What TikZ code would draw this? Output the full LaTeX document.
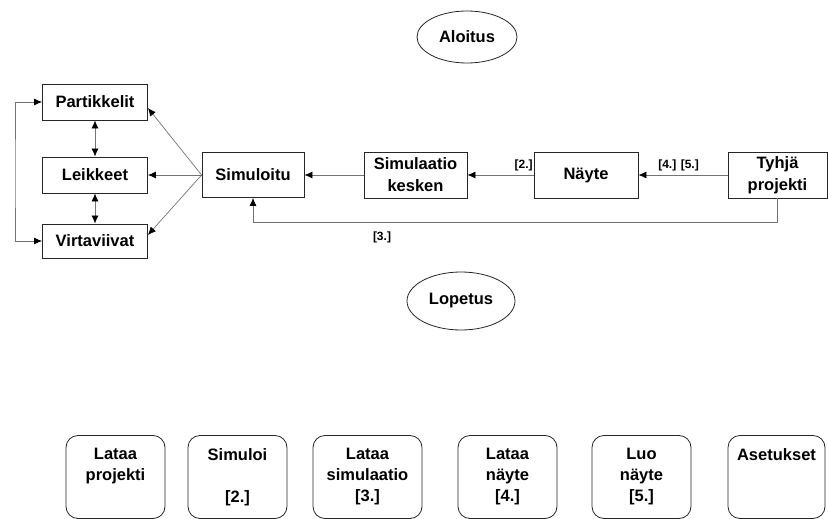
\documentclass[tikz,border=0pt]{standalone}
\usepackage{fontspec}
\setmainfont{Liberation Sans}
\usetikzlibrary{shapes.geometric,arrows.meta,calc}
\begin{document}
\begin{tikzpicture}[x=1pt,y=-1pt,
  every node/.style={font=\fontsize{16.5}{22}\selectfont\bfseries, align=center, inner sep=0pt},
  sbox/.style={draw=black!85, line width=0.8pt, rectangle},
  rbox/.style={draw=black!85, line width=0.8pt, rounded corners=12pt, minimum width=99pt, minimum height=83pt},
  oval/.style={draw=black!85, line width=0.8pt, ellipse},
  tip/.tip={Latex[length=8pt,width=7pt,black]},
  conn/.style={draw=black!55, line width=0.7pt, -tip},
  conn2/.style={draw=black!55, line width=0.7pt, tip-tip},
  lbl/.style={font=\fontsize{12}{14}\selectfont\bfseries},
  btxt/.style={font=\fontsize{16.5}{21}\selectfont\bfseries, anchor=north}
]
\useasboundingbox (0,0) rectangle (828,519);
% ellipses
\node[oval, minimum width=100pt, minimum height=52pt] (aloitus) at (467,37) {Aloitus};
\node[oval, minimum width=108pt, minimum height=58pt] (lopetus) at (461,301) {Lopetus};
% left boxes
\node[sbox, minimum width=105pt, minimum height=36pt] (part) at (95,102) {Partikkelit};
\node[sbox, minimum width=105pt, minimum height=36pt] (leik) at (95,175) {Leikkeet};
\node[sbox, minimum width=105pt, minimum height=34pt] (virt) at (95,241) {Virtaviivat};
% chain
\node[sbox, minimum width=102pt, minimum height=45pt] (sim) at (253,175) {Simuloitu};
\node[sbox, minimum width=103pt, minimum height=46pt] (simk) at (415.5,175) {Simulaatio\\kesken};
\node[sbox, minimum width=104pt, minimum height=46pt] (nayte) at (586,175) {Näyte};
\node[sbox, minimum width=99pt, minimum height=46pt] (tyhja) at (777.5,175) {Tyhjä\\projekti};
% connectors
\draw[conn] (tyhja.west) -- (nayte.east) node[lbl, pos=0.55, above=4pt] (l45) {[4.] [5.]};
\draw[conn] (nayte.west) -- (simk.east) node[lbl, pos=0.15, above=4pt] (l2) {[2.]};
\draw[conn] (simk.west) -- (sim.east);
\coordinate (ret) at (777.5,222);
\draw[conn] (tyhja.south) -- (ret) -| (sim.south);
\node[lbl] (l3) at (382,237) {[3.]};
\draw[conn] (sim.west) -- ([yshift=-6pt]part.east);
\draw[conn] (sim.west) -- (leik.east);
\draw[conn] (sim.west) -- ([yshift=6pt]virt.east);
\draw[conn2] (part.south) -- (leik.north);
\draw[conn2] (leik.south) -- (virt.north);
\coordinate (lx) at (15,175);
\draw[conn2] (part.west) -| (lx) |- (virt.west);
% bottom boxes
\node[rbox] (b1) at (115.5,477) {};
\node[btxt] (t1) at ([yshift=-13pt]b1.north) {Lataa\\projekti};
\node[rbox] (b2) at (237.5,477) {};
\node[btxt] (t2) at ([yshift=-13pt]b2.north) {Simuloi\\{}\\{[2.]}};
\node[rbox, minimum width=109pt] (b3) at (367.5,477) {};
\node[btxt] (t3) at ([yshift=-13pt]b3.north) {Lataa\\simulaatio\\{[3.]}};
\node[rbox] (b4) at (507.5,477) {};
\node[btxt] (t4) at ([yshift=-13pt]b4.north) {Lataa\\näyte\\{[4.]}};
\node[rbox] (b5) at (641.5,477) {};
\node[btxt] (t5) at ([yshift=-13pt]b5.north) {Luo\\näyte\\{[5.]}};
\node[rbox, minimum width=97pt] (b6) at (776.5,477) {};
\node[btxt] (t6) at ([yshift=-13pt]b6.north) {Asetukset};
\end{tikzpicture}
\end{document}
